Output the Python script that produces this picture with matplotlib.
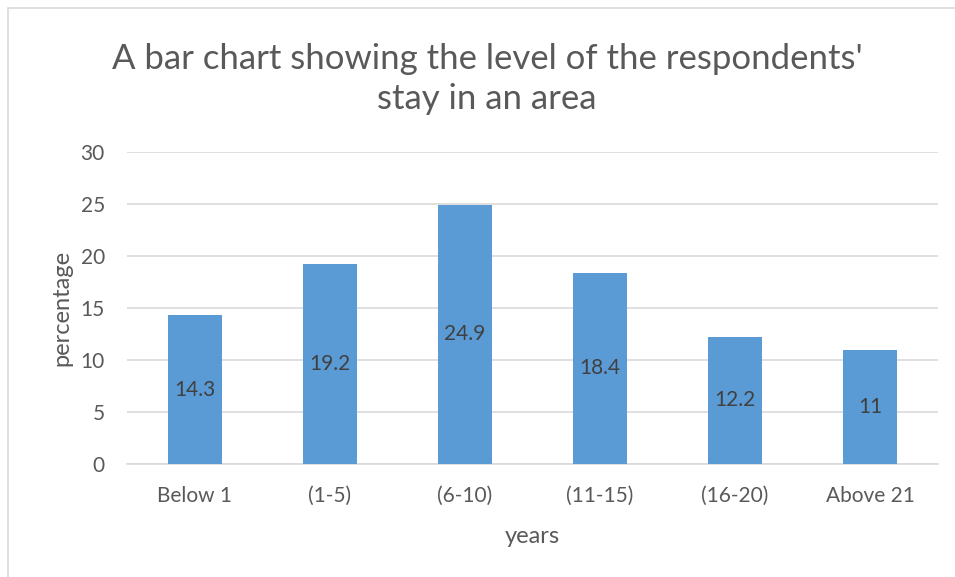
import matplotlib
matplotlib.use("Agg")
import matplotlib.pyplot as plt
from matplotlib.patches import Rectangle

categories = ["Below 1", "(1-5)", "(6-10)", "(11-15)", "(16-20)", "Above 21"]
values = [14.3, 19.2, 24.9, 18.4, 12.2, 11]
value_labels = ["14.3", "19.2", "24.9", "18.4", "12.2", "11"]
yticks = [0, 5, 10, 15, 20, 25, 30]

plt.rcParams['font.family'] = ['Lato', 'DejaVu Sans']
fig = plt.figure(figsize=(9.55, 5.77), dpi=100)
ax = fig.add_axes([0.133, 0.196, 0.849, 0.5407])

x = list(range(len(categories)))
bars = ax.bar(x, values, width=0.4, color="#5B9BD5", zorder=3)
for xi, v, lab in zip(x, values, value_labels):
    ax.text(xi, v / 2, lab, ha="center", va="center", fontsize=15, color="#404040", zorder=4)

ax.set_xlim(-0.5, len(categories) - 0.5)
ax.set_ylim(0, 30)
ax.set_yticks(yticks)
ax.set_yticklabels([str(t) for t in yticks])
ax.set_xticks(x)
ax.set_xticklabels(categories)
ax.tick_params(axis="both", length=0, labelsize=15, colors="#595959")
ax.tick_params(axis="x", pad=16)
ax.tick_params(axis="y", pad=16)
ax.grid(axis="y", color="#D9D9D9", linewidth=1.2, zorder=0)
for s in ["top", "right", "left"]:
    ax.spines[s].set_visible(False)
ax.spines["bottom"].set_color("#D9D9D9")
ax.spines["bottom"].set_linewidth(1.2)

ax.set_xlabel("years", fontsize=17, color="#595959", labelpad=14)
ax.set_ylabel("percentage", fontsize=17, color="#595959", labelpad=6)

fig.text(0.510, 0.863, "A bar chart showing the level of the respondents'\nstay in an area",
         ha="center", va="center", fontsize=25, color="#595959", linespacing=1.33)

fig.patches.append(Rectangle((8 / 955, -0.1), 1.2, 1 - 8 / 577 + 0.1, transform=fig.transFigure,
                             fill=False, edgecolor="#D9D9D9", linewidth=1.2))

fig.savefig("out.png", dpi=100)
